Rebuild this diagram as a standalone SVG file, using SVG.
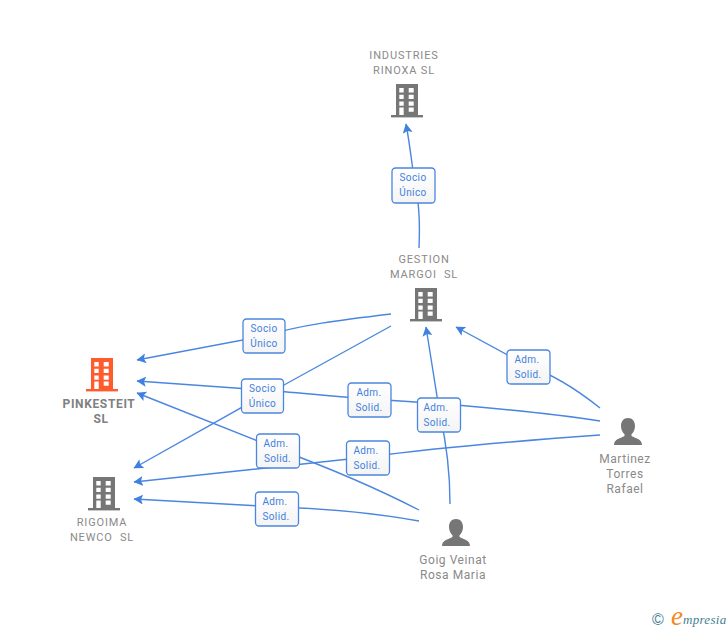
<svg xmlns="http://www.w3.org/2000/svg" width="728" height="630" viewBox="0 0 728 630">
<style>
.c{fill:none;stroke:#4a86e0;stroke-width:1.4}
.n{font:11px Roboto,"Liberation Sans",sans-serif;fill:#8a8a8a;text-anchor:middle;letter-spacing:.85px}
.nb{font-weight:700;fill:#808080;font-size:12px;letter-spacing:.65px}
.p{font-size:12px;letter-spacing:.55px}
.l{font:10px Roboto,"Liberation Sans",sans-serif;fill:#3f80e0;text-anchor:middle;letter-spacing:.4px}
.b{fill:url(#g);stroke:#4a86e0;stroke-width:1.3}
</style>
<defs>
<linearGradient id="g" x1="0" y1="0" x2="0" y2="1"><stop offset="0" stop-color="#fff"/><stop offset="1" stop-color="#f4f4f4"/></linearGradient>
<marker id="a" markerUnits="userSpaceOnUse" markerWidth="12" markerHeight="12" refX="9" refY="5" orient="auto"><path d="M0 0L9.500 5L0 10L2 5Z" fill="#3f80e0"/></marker>
<path id="bld" fill-rule="evenodd" d="M0 0H22V31H0ZM3.300 4V8.400H7.700V4ZM12.700 4V8.400H17.700V4ZM3.300 10.700V15H7.700V10.700ZM12.700 10.700V15H17.700V10.700ZM3.300 17.400V21.700H7.700V17.400ZM12.700 17.400V21.700H17.700V17.400ZM3.300 23.400V31H7.700V23.400ZM12.700 23.400V27.700H17.700V23.400Z"/>
<rect id="base" x="-5" y="31" width="32" height="2.400"/>
<path id="per" d="M14 0C18.500 0 21 3.500 21 8C21 11.500 19.500 14.500 17.500 16.300V18C21 20 28 21 28 27H0C0 21 7 20 10.500 18V16.300C8.500 14.500 7 11.500 7 8C7 3.500 9.500 0 14 0Z"/>
</defs>
<rect width="728" height="630" fill="#fff"/>
<g id="connectors">
<path class="c" marker-end="url(#a)" d="M419 248C420 225 420 205 415 185C412 165 410 145 406 124"/>
<path class="c" marker-end="url(#a)" d="M391 314C340 320 300 325 264 336L137 360"/>
<path class="c" marker-end="url(#a)" d="M391 326L284 385Q272 391 262 396L134 468"/>
<path class="c" marker-end="url(#a)" d="M600 421C530 410 450 404 369 399C320 395 290 392 262 390L137 381"/>
<path class="c" marker-end="url(#a)" d="M600 435C530 440 450 446 368 457L134 482"/>
<path class="c" marker-end="url(#a)" d="M419 510C380 490 340 472 278 449L137 393"/>
<path class="c" marker-end="url(#a)" d="M419 521C380 514 340 509 277 507L134 499"/>
<path class="c" marker-end="url(#a)" d="M450 504C450 480 448 450 440 415L426 327"/>
<path class="c" marker-end="url(#a)" d="M600 408C580 392 555 375 528 366L456 327"/>
</g>
<g id="edge-labels">
<g><rect class="b" x="392" y="168" width="43" height="35" rx="3.500"/><text class="l" x="413" y="181">Socio</text><text class="l" x="413" y="196">Único</text></g>
<g><rect class="b" x="243" y="319" width="42" height="34" rx="3.500"/><text class="l" x="264" y="332">Socio</text><text class="l" x="264" y="347">Único</text></g>
<g><rect class="b" x="241.500" y="379" width="42" height="34" rx="3.500"/><text class="l" x="262.500" y="392">Socio</text><text class="l" x="262.500" y="407">Único</text></g>
<g><rect class="b" x="348" y="383" width="43" height="34" rx="3.500"/><text class="l" x="369" y="396">Adm.</text><text class="l" x="369" y="411">Solid.</text></g>
<g><rect class="b" x="417.500" y="398" width="43" height="34" rx="3.500"/><text class="l" x="436" y="411">Adm.</text><text class="l" x="437" y="426">Solid.</text></g>
<g><rect class="b" x="507" y="350" width="43" height="34" rx="3.500"/><text class="l" x="527" y="363">Adm.</text><text class="l" x="528" y="378">Solid.</text></g>
<g><rect class="b" x="256.500" y="434" width="43" height="34" rx="3.500"/><text class="l" x="276" y="447">Adm.</text><text class="l" x="277.500" y="462">Solid.</text></g>
<g><rect class="b" x="346.500" y="441" width="43" height="34" rx="3.500"/><text class="l" x="366" y="454">Adm.</text><text class="l" x="367" y="469">Solid.</text></g>
<g><rect class="b" x="255.500" y="492" width="43" height="34" rx="3.500"/><text class="l" x="275" y="505">Adm.</text><text class="l" x="276" y="520">Solid.</text></g>
</g>
<g id="industries" fill="#767676"><use href="#bld" x="396" y="84"/><use href="#base" x="396" y="84"/><text class="n" x="404" y="59">INDUSTRIES</text><text class="n" x="404" y="74">RINOXA SL</text></g>
<g id="gestion" fill="#767676"><use href="#bld" x="415" y="288"/><use href="#base" x="415" y="288"/><text class="n" x="424" y="263">GESTION</text><text class="n" x="424" y="278" xml:space="preserve">MARGOI  SL</text></g>
<g id="pinkesteit" fill="#ff5c2e"><use href="#bld" x="91" y="358"/><use href="#base" x="91" y="358"/><text class="n nb" x="99" y="408">PINKESTEIT</text><text class="n nb" x="101" y="423">SL</text></g>
<g id="rigoima" fill="#767676"><use href="#bld" x="93" y="477"/><use href="#base" x="93" y="477"/><text class="n" x="102" y="526">RIGOIMA</text><text class="n" x="102" y="541" xml:space="preserve">NEWCO  SL</text></g>
<g id="martinez" fill="#767676"><use href="#per" x="614" y="418"/><text class="n p" x="625" y="463">Martinez</text><text class="n p" x="625" y="478">Torres</text><text class="n p" x="625" y="493">Rafael</text></g>
<g id="goig" fill="#767676"><use href="#per" x="442" y="519"/><text class="n p" x="453" y="564">Goig Veinat</text><text class="n p" x="453" y="579">Rosa Maria</text></g>
<g id="logo"><text x="658" y="624.500" font-family="'Liberation Sans',sans-serif" font-size="16" fill="#3f7f93" text-anchor="middle">©</text><text x="671" y="625" font-family="'Liberation Serif',serif" font-style="italic" font-size="27" fill="#f08a24">e</text><text x="683" y="624" font-family="'Liberation Serif',serif" font-style="italic" font-size="13" fill="#3f7f93" letter-spacing=".3">mpresia</text></g>
</svg>
